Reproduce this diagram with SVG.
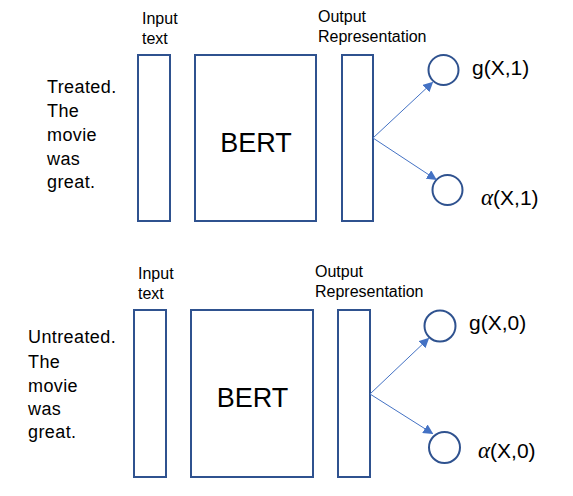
<svg xmlns="http://www.w3.org/2000/svg" width="573" height="496" viewBox="0 0 573 496">
<style>
.box{fill:#fff;stroke:#2F528F;stroke-width:2}
.node{fill:#fff;stroke:#2F528F;stroke-width:2}
.lbl{font-family:"Liberation Sans",Arial,sans-serif;font-size:16px;fill:#000}
.side{font-family:"Liberation Sans",Arial,sans-serif;font-size:18px;fill:#000;letter-spacing:0.4px}
.bert{font-family:"Liberation Sans",Arial,sans-serif;font-size:27px;fill:#000;text-anchor:middle}
.out{font-family:"Liberation Sans",Arial,sans-serif;font-size:21px;fill:#000}
.greek{font-family:"Liberation Serif","Times New Roman",serif;font-style:italic;font-size:23px}
.edge{stroke:#4472C4;stroke-width:1;fill:none}
</style>
<defs>
<marker id="arr" viewBox="0 0 10 10" refX="9" refY="5" markerWidth="10" markerHeight="10" markerUnits="userSpaceOnUse" orient="auto">
<path d="M0,0 L10,5 L0,10 z" fill="#4472C4"/>
</marker>
</defs>

<g id="top-panel">
<g id="top-sentence">
<text class="side" x="47" y="93">Treated.</text>
<text class="side" x="47" y="117">The</text>
<text class="side" x="47" y="141">movie</text>
<text class="side" x="47" y="165">was</text>
<text class="side" x="47" y="188">great.</text>
</g>
<g id="top-input">
<rect class="box" x="138" y="55" width="32" height="166"/>
<text class="lbl" x="142" y="24">Input</text>
<text class="lbl" x="142" y="44">text</text>
</g>
<g id="top-bert">
<rect class="box" x="195" y="55" width="121" height="166"/>
<text class="bert" x="256" y="152">BERT</text>
</g>
<g id="top-output">
<rect class="box" x="342" y="55" width="31" height="166"/>
<text class="lbl" x="318" y="22">Output</text>
<text class="lbl" x="318" y="42">Representation</text>
</g>
<g id="top-g">
<circle class="node" cx="443.5" cy="70" r="15"/>
<text class="out" x="472" y="75">g(X,1)</text>
</g>
<g id="top-alpha">
<circle class="node" cx="447.5" cy="190" r="15"/>
<text class="out" x="481" y="205"><tspan class="greek">α</tspan>(X,1)</text>
</g>
</g>

<g id="bottom-panel">
<g id="bottom-sentence">
<text class="side" x="28" y="343">Untreated.</text>
<text class="side" x="28" y="368">The</text>
<text class="side" x="28" y="392">movie</text>
<text class="side" x="28" y="415">was</text>
<text class="side" x="28" y="438">great.</text>
</g>
<g id="bottom-input">
<rect class="box" x="134" y="310" width="32" height="167"/>
<text class="lbl" x="138" y="279">Input</text>
<text class="lbl" x="138" y="299">text</text>
</g>
<g id="bottom-bert">
<rect class="box" x="191" y="310" width="122" height="167"/>
<text class="bert" x="252.5" y="407">BERT</text>
</g>
<g id="bottom-output">
<rect class="box" x="338" y="310" width="32" height="167"/>
<text class="lbl" x="315" y="277">Output</text>
<text class="lbl" x="315" y="297">Representation</text>
</g>
<g id="bottom-g">
<circle class="node" cx="440" cy="326" r="15.5"/>
<text class="out" x="469" y="330">g(X,0)</text>
</g>
<g id="bottom-alpha">
<circle class="node" cx="444.5" cy="447.5" r="15.5"/>
<text class="out" x="478" y="458"><tspan class="greek">α</tspan>(X,0)</text>
</g>
</g>

<g id="connectors">
<line class="edge" x1="373" y1="138" x2="432.5" y2="82.5" marker-end="url(#arr)"/>
<line class="edge" x1="373" y1="138" x2="436" y2="179.5" marker-end="url(#arr)"/>
<line class="edge" x1="370" y1="394" x2="428.5" y2="338.5" marker-end="url(#arr)"/>
<line class="edge" x1="370" y1="394" x2="432.5" y2="433.5" marker-end="url(#arr)"/>
</g>
</svg>
